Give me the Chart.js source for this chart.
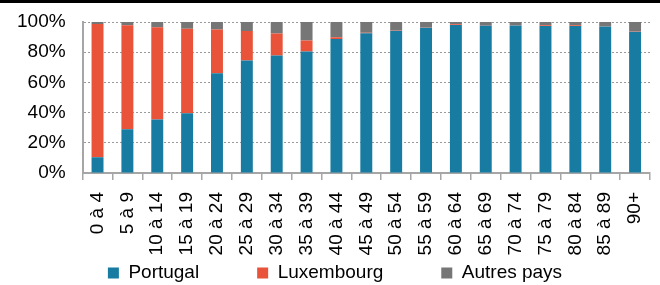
<!DOCTYPE html>
<html>
<head>
<meta charset="utf-8">
<script src="https://cdn.jsdelivr.net/npm/chart.js@4"></script>
<style>
  html, body { margin: 0; padding: 0; background: #fff; }
  #wrap { width: 660px; height: 285px; position: relative; }
</style>
</head>
<body>
<div id="wrap"><canvas id="myChart"></canvas></div>
<script>
var ageGroups = ['0 à 4', '5 à 9', '10 à 14', '15 à 19', '20 à 24', '25 à 29', '30 à 34', '35 à 39', '40 à 44', '45 à 49',
  '50 à 54', '55 à 59', '60 à 64', '65 à 69', '70 à 74', '75 à 79', '80 à 84', '85 à 89', '90+'];
var portugal   = [10.5, 29, 35.5, 39.5, 66, 74.5, 77.8, 80.5, 88.7, 92.5, 94.2, 96.2, 98, 97.6, 97.6, 97.4, 97.3, 97, 93.6];
var luxembourg = [88.2, 68.8, 61, 56, 29, 19.5, 14.6, 7.3, 1.2, 0.3, 0.3, 0.2, 0.5, 0.4, 0.3, 0.5, 0.5, 0.2, 0.2];
var autresPays = [1.3, 2.2, 3.5, 4.5, 5, 6, 7.6, 12.2, 10.1, 7.2, 5.5, 3.6, 1.5, 2, 2.1, 2.1, 2.2, 2.8, 6.2];
var yTicks = [0, 20, 40, 60, 80, 100];

var colors = {
  blue: '#187ca2',
  red: '#e9533a',
  grey: '#767676',
  axis: '#a6a6a6',
  grid: '#9a9a9a'
};

var legendGap = 58;   // horizontal gap between legend items
var legendMidY = 273; // vertical centre of the legend row
var legendNudge = 5;  // the legend row sits a little right of centre

// black rule along the top edge
var topRule = {
  id: 'topRule',
  beforeDraw: function(chart) {
    var ctx = chart.ctx;
    ctx.save();
    ctx.fillStyle = '#000';
    ctx.fillRect(0, 0, chart.width, 3);
    ctx.restore();
  }
};

// legend padding is used both ways, so put the row back where it belongs after layout
var legendShift = {
  id: 'legendShift',
  afterLayout: function(chart) {
    var lg = chart.legend;
    if (!lg) return;
    lg.top = legendMidY - 9.5 - legendGap;
    lg.left += legendNudge;
    lg.right += legendNudge;
  }
};

var font = { family: '"Liberation Sans", Arial, sans-serif', size: 19 };

var config = {
  type: 'bar',
  data: {
    labels: ageGroups,
    datasets: [
      { label: 'Portugal', data: portugal, backgroundColor: colors.blue },
      { label: 'Luxembourg', data: luxembourg, backgroundColor: colors.red },
      { label: 'Autres pays', data: autresPays, backgroundColor: colors.grey }
    ]
  },
  options: {
    animation: false,
    responsive: true,
    maintainAspectRatio: false,
    layout: { padding: { left: 0, right: 0, top: 0, bottom: 0 } },
    datasets: {
      bar: { barPercentage: 0.4, categoryPercentage: 1.0, borderWidth: 0 }
    },
    plugins: {
      tooltip: { enabled: false },
      legend: {
        position: 'bottom',
        maxHeight: 11,
        labels: {
          font: font,
          color: '#000',
          boxWidth: 11,
          boxHeight: 11,
          padding: legendGap
        }
      }
    },
    scales: {
      x: {
        stacked: true,
        afterFit: function(scale) {
          scale.height = 101;
          scale.paddingLeft = 0;
          scale.paddingRight = 10;
        },
        grid: {
          offset: true,
          drawOnChartArea: false,
          drawTicks: true,
          tickLength: 7,
          color: colors.axis,
          lineWidth: 1.5
        },
        border: { color: colors.axis, width: 2 },
        ticks: {
          font: font,
          color: '#000',
          minRotation: 90,
          maxRotation: 90,
          autoSkip: false,
          padding: 12
        }
      },
      y: {
        stacked: true,
        min: 0,
        max: 100,
        afterBuildTicks: function(scale) {
          scale.ticks = yTicks.map(function(v) { return { value: v }; });
        },
        afterFit: function(scale) {
          scale.paddingTop = 22;
          scale.paddingBottom = 0;
        },
        grid: {
          drawTicks: false,
          color: function(c) { return c.tick && c.tick.value === 0 ? 'rgba(0,0,0,0)' : colors.grid; },
          lineWidth: 1
        },
        border: { color: colors.axis, width: 2, dash: [2, 2] },
        ticks: {
          font: font,
          color: '#000',
          autoSkip: false,
          padding: 17,
          callback: function(v) { return v + '%'; }
        }
      }
    }
  },
  plugins: [topRule, legendShift]
};

window.onload = function() {
  var ctx = document.getElementById('myChart').getContext('2d');
  window.myBar = new Chart(ctx, config);
};
</script>
</body>
</html>
